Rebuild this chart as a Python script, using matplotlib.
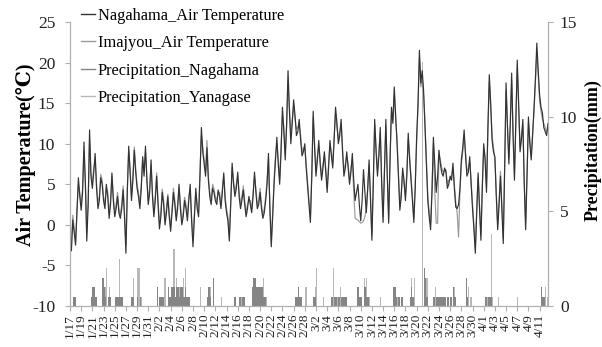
import numpy as np
import matplotlib
matplotlib.use("Agg")
import matplotlib.pyplot as plt
from matplotlib.lines import Line2D

plt.rcParams['axes.unicode_minus'] = False
SERIF = ['Liberation Serif', 'DejaVu Serif']

# x tick labels every 2 days starting 1/17 (day 0)
tick_labels = ["1/17", "1/19", "1/21", "1/23", "1/25", "1/27", "1/29", "1/31",
               "2/2", "2/4", "2/6", "2/8", "2/10", "2/12", "2/14", "2/16", "2/18",
               "2/20", "2/22", "2/24", "2/26", "2/28", "3/2", "3/4", "3/6", "3/8",
               "3/10", "3/12", "3/14", "3/16", "3/18", "3/20", "3/22", "3/24",
               "3/26", "3/28", "3/30", "4/1", "4/3", "4/5", "4/7", "4/9", "4/11"]

# air temperature (deg C), one sample every 6 hours starting 1/17 00:00
nagahama_temp = [
    -2.7, -3.2, 0.6, -1.0, -2.5, 1.5, 5.8, 3.5, 1.8, 4.0, 10.2, 5.0, -2.0, 2.5, 11.7, 6.0, 4.5, 6.5, 8.8, 4.5,
    2.0, 3.0, 5.8, 5.0, 3.0, 2.0, 5.0, 3.5, 0.8, 2.5, 6.4, 3.0, 1.0, 2.0, 3.5, 1.5, 0.8, 2.0, 4.3, 1.0,
    -3.5, 4.0, 9.7, 6.5, 3.0, 5.5, 9.2, 6.5, 4.5, 3.5, 2.0, 4.5, 8.4, 6.0, 9.7, 5.5, 2.5, 4.0, 8.0, 3.5,
    1.0, 3.0, 6.0, 2.5, -0.5, 1.0, 4.0, 2.5, 0.0, 1.5, 3.5, 1.0, -0.8, 1.5, 4.0, 2.5, 0.5, 2.0, 5.0, 2.0,
    0.0, 1.0, 3.0, 2.0, 0.5, 3.0, 5.0, 0.5, -2.7, 1.0, 4.5, 2.0, 1.0, 6.0, 12.0, 9.0, 7.5, 6.0, 9.5, 5.5,
    3.5, 2.5, 4.5, 4.0, 3.0, 2.5, 4.3, 3.5, 2.0, 4.0, 6.4, 3.0, 1.5, 0.5, -2.0, 2.5, 7.6, 5.0, 3.5, 4.5,
    6.5, 3.5, 2.0, 3.0, 4.3, 2.5, 1.0, 2.0, 3.5, 2.5, 1.5, 3.5, 6.5, 4.0, 2.0, 2.5, 4.0, 2.0, 0.8, 1.5,
    3.0, 5.0, 8.8, 2.0, -2.7, 1.0, 5.0, 8.0, 10.8, 7.5, 5.0, 9.0, 14.5, 11.5, 8.0, 12.5, 19.0, 14.0, 10.0, 12.5,
    15.4, 13.5, 11.0, 11.5, 13.0, 10.5, 8.5, 9.0, 10.0, 7.0, 4.7, 2.5, 0.3, 6.0, 14.0, 9.5, 6.0, 8.0, 10.4, 7.5,
    5.5, 7.0, 9.0, 6.5, 4.0, 7.0, 10.4, 8.5, 7.0, 10.5, 14.5, 12.5, 10.0, 11.0, 13.0, 9.0, 6.0, 7.0, 9.0, 7.0,
    5.0, 6.5, 8.8, 5.5, 3.0, 4.0, 5.0, 2.5, 0.5, 3.0, 6.8, 4.0, 1.5, 4.5, 8.0, 3.0, -1.9, 5.0, 13.0, 9.0,
    6.0, 8.5, 12.0, 5.0, 0.3, 6.5, 13.0, 6.0, 0.2, 8.0, 14.5, 12.5, 17.0, 13.5, 10.0, 6.0, 1.8, 3.5, 7.0, 5.5,
    3.0, 6.0, 11.3, 8.0, 5.5, 3.0, 0.3, 4.5, 10.8, 15.0, 21.5, 17.5, 19.0, 16.5, 12.0, 7.5, 3.0, 1.0, -0.6, 4.0,
    10.8, 7.5, 4.0, 6.0, 9.2, 7.5, 6.4, 6.0, 7.0, 6.5, 4.5, 5.0, 6.0, 5.5, 7.6, 4.5, 2.2, 2.0, 2.5, 4.5,
    8.0, 9.5, 11.7, 8.5, 6.0, 6.5, 8.4, 5.0, 2.0, -0.5, -3.5, 1.5, 6.4, 2.0, -1.9, 4.5, 10.0, 8.0, 4.0, 12.0,
    18.5, 15.0, 10.4, 9.0, 8.4, 3.5, -0.6, 2.5, 6.0, 2.0, -2.3, 7.0, 17.5, 12.0, 7.5, 12.5, 18.7, 11.0, 5.5, 13.0,
    20.3, 15.0, 9.0, 10.5, 13.0, 5.0, -0.6, 6.0, 13.3, 10.0, 8.0, 11.0, 14.5, 18.0, 22.4, 19.0, 16.0, 14.5, 13.8, 12.0,
    11.5, 11.0, 12.5]

imajyou_temp = [
    -2.0, -2.5, 1.2, -0.5, -2.0, 2.0, 5.0, 4.0, 2.5, 4.5, 9.0, 5.5, -1.0, 3.0, 10.5, 6.5, 5.2, 7.0, 8.0, 5.0,
    2.8, 3.5, 6.2, 5.5, 3.5, 2.5, 4.6, 4.0, 1.5, 3.0, 6.0, 3.5, 1.5, 2.5, 4.0, 2.0, 1.2, 2.5, 4.8, 1.5,
    -2.5, 4.5, 9.2, 7.0, 3.6, 6.0, 9.6, 7.0, 5.0, 4.0, 2.6, 5.0, 8.0, 6.5, 9.0, 6.0, 3.0, 4.5, 7.4, 4.0,
    1.6, 3.5, 6.4, 3.0, 0.2, 1.5, 4.4, 3.0, 0.6, 2.0, 3.8, 1.5, -0.2, 2.0, 4.5, 3.0, 1.0, 2.5, 4.6, 2.5,
    0.5, 1.5, 3.4, 2.5, 1.0, 3.5, 4.4, 1.0, -1.8, 1.5, 4.0, 2.5, 1.6, 6.5, 11.0, 9.5, 8.0, 6.5, 10.4, 6.0,
    4.0, 3.0, 5.0, 4.5, 3.4, 3.0, 4.0, 4.0, 2.5, 4.5, 6.0, 3.5, 2.0, 1.0, -1.4, 3.0, 7.0, 5.5, 4.0, 5.0,
    6.0, 4.0, 2.6, 3.5, 4.8, 3.0, 1.5, 2.5, 3.0, 3.0, 2.0, 4.0, 6.0, 4.5, 2.5, 3.0, 4.5, 2.5, 1.2, 2.0,
    3.5, 5.5, 8.2, 2.5, -2.0, 1.5, 5.5, 8.5, 10.0, 8.0, 5.6, 9.5, 13.6, 12.0, 8.8, 12.0, 17.5, 14.5, 11.0, 13.0,
    14.6, 13.0, 11.8, 12.0, 12.4, 11.0, 9.0, 9.5, 9.4, 7.5, 5.2, 3.0, 1.0, 6.5, 13.2, 10.0, 6.6, 8.5, 9.8, 8.0,
    6.0, 7.5, 8.5, 7.0, 4.6, 7.5, 9.8, 9.0, 7.6, 11.0, 13.8, 12.0, 10.6, 11.5, 12.4, 9.5, 6.6, 7.5, 8.4, 7.5,
    5.6, 7.0, 8.0, 4.0, 0.8, 0.7, 0.6, 0.4, 0.2, 0.3, 0.5, 1.0, 2.0, 4.5, 7.4, 3.5, -1.2, 5.5, 12.4, 9.5,
    6.6, 9.0, 11.4, 5.5, 1.0, 7.0, 12.2, 6.5, 0.8, 8.5, 13.8, 13.0, 16.0, 13.0, 10.6, 6.5, 2.4, 4.0, 6.4, 5.0,
    3.6, 6.5, 10.6, 8.5, 6.0, 3.5, 1.0, 5.0, 10.0, 14.5, 20.5, 17.0, 18.0, 16.0, 12.6, 8.0, 3.6, 1.5, 0.2, 4.5,
    10.0, 4.0, 0.2, 0.2, 8.6, 8.0, 7.0, 6.5, 6.6, 6.8, 5.0, 5.5, 5.6, 6.0, 7.0, 5.0, 2.8, 1.5, -1.5, 4.0,
    7.4, 9.0, 11.0, 9.0, 6.6, 7.0, 7.8, 5.5, 2.6, 0.0, -2.8, 2.0, 5.8, 2.5, -1.2, 5.0, 9.4, 8.5, 4.6, 11.5,
    17.6, 14.5, 11.0, 9.5, 8.0, 4.0, 0.0, 3.0, 6.6, 2.5, -1.6, 7.5, 16.6, 12.5, 8.2, 12.0, 17.8, 11.5, 6.2, 12.5,
    19.4, 14.5, 9.6, 11.0, 12.4, 5.5, 0.2, 6.5, 12.6, 10.5, 8.6, 11.5, 13.8, 17.5, 21.4, 18.5, 15.2, 14.0, 13.0, 12.5,
    12.0, 11.5, 11.8]

# precipitation events (day offset from 1/17, mm)
nagahama_precip_day = [
    0.5, 0.75, 3.75, 4.0, 4.25, 4.5, 5.75, 6.0, 6.25, 6.75, 7.0,
    8.0, 8.25, 8.5, 8.75, 9.0, 9.25, 11.0, 11.25, 12.0, 12.5,
    15.5, 16.0, 16.25, 16.5,
    17.5, 17.75, 18.0, 18.25, 18.5, 18.75, 19.0, 19.25, 19.5, 19.75,
    20.0, 20.25, 20.5, 20.75, 21.0, 21.25,
    24.5, 24.75, 25.0, 25.5, 29.25, 29.5, 30.25, 30.75, 31.0,
    32.5, 32.75, 33.0, 33.25, 33.5, 33.75, 34.0, 34.25, 34.5, 34.75,
    40.25, 40.5, 40.75, 41.0, 41.25, 43.5, 43.75,
    46.75, 47.25, 47.5, 48.0, 48.5, 48.75, 49.0, 49.25,
    51.25, 51.5, 51.75, 52.0, 52.5, 52.75, 53.0, 53.25,
    57.75, 58.0, 58.25, 58.75, 59.25, 60.75, 61.0, 61.25,
    63.25, 63.5, 63.75,
    65.0, 65.5, 65.75, 66.0, 66.25, 66.5, 66.75, 67.0, 67.5, 68.0, 68.5, 68.75,
    70.75, 71.0, 74.25, 74.75, 75.0, 75.25, 84.25, 84.5, 84.75]
nagahama_precip_mm = [
    0.5, 0.5, 0.5, 1.0, 1.0, 0.5, 1.5, 1.0, 0.5, 0.5, 0.5,
    0.5, 0.5, 0.5, 0.5, 0.5, 0.5, 0.5, 0.5, 0.5, 0.5,
    1.0, 0.5, 0.5, 0.5,
    1.0, 0.5, 1.0, 1.0, 1.0, 0.5, 1.0, 1.0, 0.5, 1.0,
    1.0, 0.5, 1.0, 0.5, 0.5, 0.5,
    0.5, 1.0, 0.5, 1.5, 0.5, 0.5, 0.5, 0.5, 0.5,
    1.0, 1.5, 1.5, 1.0, 1.0, 1.0, 1.0, 1.0, 0.5, 0.5,
    0.5, 0.5, 1.0, 0.5, 0.5, 0.5, 0.5,
    0.5, 0.5, 0.5, 0.5, 0.5, 0.5, 0.5, 0.5,
    1.0, 1.0, 0.5, 0.5, 1.0, 1.0, 0.5, 0.5,
    1.0, 1.0, 0.5, 0.5, 0.5, 0.5, 1.0, 0.5,
    2.0, 1.5, 0.5,
    0.5, 0.5, 0.5, 0.5, 0.5, 0.5, 0.5, 0.5, 0.5, 0.5, 1.0, 0.5,
    1.5, 0.5, 0.5, 0.5, 0.5, 0.5, 1.0, 0.5, 0.5]

yanagase_precip_day = [
    4.25, 6.25, 6.5, 7.0, 8.75, 9.0, 11.25, 12.0, 12.25, 12.75,
    16.75, 17.0, 18.5, 19.0, 19.5, 20.25, 20.5, 21.0, 23.25,
    24.5, 25.0, 27.0, 30.5, 32.75, 34.5, 35.0, 40.75,
    42.0, 42.25, 43.75, 44.0, 45.25, 47.0, 47.75, 48.25,
    52.5, 53.0, 53.5, 55.5, 58.5, 61.0, 61.5, 63.0, 63.75,
    65.25, 66.5, 68.5, 68.75, 71.25, 71.5, 71.75,
    74.5, 75.25, 75.5, 76.5, 80.0, 85.0, 85.25]
yanagase_precip_mm = [
    0.5, 1.0, 2.0, 1.0, 2.5, 0.5, 1.5, 2.0, 2.0, 0.5,
    1.5, 1.5, 3.0, 1.5, 1.0, 1.5, 2.0, 0.5, 1.0,
    0.5, 1.0, 0.5, 0.5, 1.0, 1.5, 0.5, 0.5,
    1.0, 1.0, 1.0, 2.0, 0.5, 2.0, 0.5, 1.0,
    1.5, 1.5, 0.5, 0.5, 0.5, 1.5, 1.5, 12.9, 1.5,
    1.0, 0.5, 0.5, 1.0, 1.0, 0.5, 0.5,
    0.5, 3.8, 0.5, 0.5, 0.5, 1.0, 0.5]

# ---------------------------------------------------------------
fig = plt.figure(figsize=(6.02, 3.47), dpi=100)
ax = fig.add_axes([70/602, 41/347, 478/602, 284/347])
ax2 = ax.twinx()

days = np.arange(len(nagahama_temp)) * 0.25
COL_N = '#333333'
COL_I = '#9a9a9a'
COL_PN = '#858585'
COL_PY = '#b8b8b8'

ax2.bar(yanagase_precip_day, yanagase_precip_mm, width=0.2, color=COL_PY, align='edge', linewidth=0)
ax2.bar(nagahama_precip_day, nagahama_precip_mm, width=0.25, color=COL_PN, align='edge', linewidth=0)
ax2.set_ylim(0, 15)

ax.set_zorder(ax2.get_zorder() + 1)
ax.patch.set_visible(False)
ax.plot(days, imajyou_temp, color=COL_I, lw=0.85)
ax.plot(days, nagahama_temp, color=COL_N, lw=0.85)

ax.set_xlim(0, 85.5)
ax.set_ylim(-10, 25)
ax.set_yticks(range(-10, 26, 5))
ax2.set_yticks([0, 5, 10, 15])
ax.set_xticks(np.arange(0, 85, 2))
ax.set_xticklabels(tick_labels, rotation=90, fontsize=9.5, family=SERIF)

for a in (ax, ax2):
    for s in a.spines.values():
        s.set_color('#b0b0b0')
    a.spines['top'].set_visible(False)
ax.tick_params(axis='y', colors='#b0b0b0', labelcolor='#222222', labelsize=12.5, length=3.6, pad=7)
ax2.tick_params(axis='y', colors='#b0b0b0', labelcolor='#222222', labelsize=12.5, length=3.6, pad=5)
ax.tick_params(axis='x', colors='#b0b0b0', labelcolor='#222222', length=3.6, pad=2)
for lab in ax.get_yticklabels() + ax2.get_yticklabels():
    lab.set_family(SERIF)

ax.set_ylabel('Air Temperature(℃)', fontsize=14.5, fontweight='bold', family=SERIF)
ax.yaxis.set_label_coords(-0.071, 0.532)
ax2.set_ylabel('Precipitation(mm)', fontsize=13, fontweight='bold', family=SERIF)
ax2.yaxis.set_label_coords(1.077, 0.549)

handles = [Line2D([], [], color=COL_N, lw=1.0),
           Line2D([], [], color=COL_I, lw=1.0),
           Line2D([], [], color=COL_PN, lw=1.0),
           Line2D([], [], color=COL_PY, lw=1.0)]
labels = ['Nagahama_Air Temperature', 'Imajyou_Air Temperature',
          'Precipitation_Nagahama', 'Precipitation_Yanagase']
fig.legend(handles, labels, loc='upper left', bbox_to_anchor=(79/602, 1 - 6/347),
           frameon=False, prop={'family': SERIF, 'size': 11.8},
           handlelength=0.9, handletextpad=0.15, labelspacing=0.7, borderaxespad=0.0,
           borderpad=0.1)

fig.savefig('out.png', dpi=100)
